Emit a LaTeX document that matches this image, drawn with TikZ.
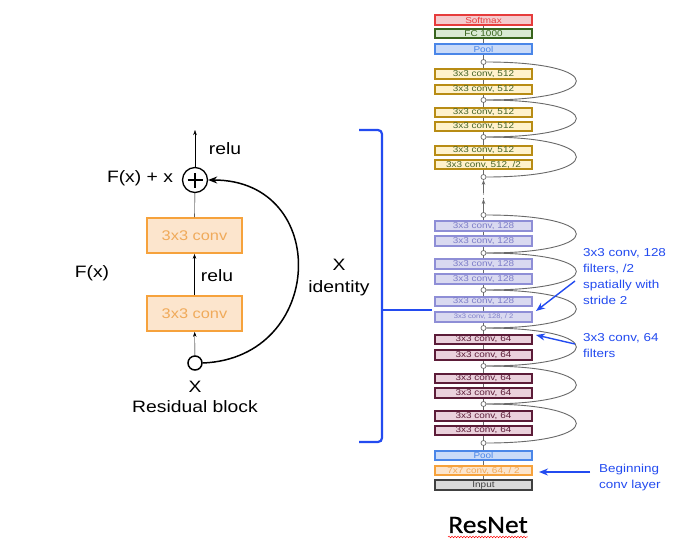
\documentclass[tikz,border=0pt]{standalone}
\usepackage{fontspec}
\setmainfont{Liberation Sans}
\newfontfamily\widesans[FakeStretch=1.17]{Liberation Sans}
\newfontfamily\calibri[FakeStretch=1.1,FakeBold=0.6]{Carlito}
\usetikzlibrary{arrows.meta,decorations.pathmorphing}

\definecolor{smline}{RGB}{230,60,60}
\definecolor{smfill}{RGB}{244,204,206}
\definecolor{fcline}{RGB}{56,100,29}
\definecolor{fcfill}{RGB}{217,234,211}
\definecolor{poline}{RGB}{74,134,232}
\definecolor{pofill}{RGB}{201,218,248}
\definecolor{goline}{RGB}{184,140,20}
\definecolor{gofill}{RGB}{255,242,204}
\definecolor{gotext}{RGB}{70,100,40}
\definecolor{laline}{RGB}{142,142,214}
\definecolor{lafill}{RGB}{217,217,240}
\definecolor{latext}{RGB}{125,125,200}
\definecolor{maline}{RGB}{92,28,56}
\definecolor{mafill}{RGB}{234,209,220}
\definecolor{orline}{RGB}{246,162,60}
\definecolor{orfill}{RGB}{252,229,205}
\definecolor{ortext}{RGB}{240,170,90}
\definecolor{inline}{RGB}{64,64,64}
\definecolor{infill}{RGB}{217,217,217}
\definecolor{skipgray}{RGB}{105,105,105}
\definecolor{noteblue}{RGB}{35,75,240}

\begin{document}
\begin{tikzpicture}[x=1pt, y=-1pt,
    layer/.style n args={3}{draw=#1, fill=#2, text=#3, line width=2.2pt,
        minimum width=96.5pt, minimum height=9.5pt, inner sep=0pt,
        font=\widesans\fontsize{8.5}{8.5}\selectfont},
    junc/.style={circle, draw=skipgray, fill=white, line width=0.7pt,
        minimum size=5pt, inner sep=0pt},
    skip/.style={draw=skipgray, line width=0.9pt},
    flow/.style={draw=skipgray, line width=0.8pt},
    convbox/.style={draw=orline, fill=orfill, text=ortext, line width=1.8pt,
        minimum width=95pt, minimum height=35pt,
        font=\widesans\fontsize{14}{14}\selectfont},
    lbl/.style={font=\widesans\fontsize{16.5}{18}\selectfont},
    note/.style={text=noteblue, align=left, anchor=north west, inner sep=0pt,
        font=\widesans\fontsize{11.5}{16}\selectfont},
    noteline/.style={draw=noteblue, line width=1.4pt, -{Stealth[length=9pt,width=7pt]}},
    small/.style={-{Stealth[length=5pt,width=3.5pt]}}
  ]
  \fill[white] (0,0) rectangle (700,555);
  \useasboundingbox (0,0) rectangle (700,555);

  % residual block
  \node[convbox] (upconv) at (194.5,235.5) {3x3 conv};
  \node[convbox] (lowconv) at (194.5,313.5) {3x3 conv};
  \node[circle, draw, line width=1.3pt, minimum size=25pt, inner sep=0pt,
        path picture={
          \draw[line width=2.6pt] ([xshift=-7.5pt]path picture bounding box.center)
            -- ([xshift=7.5pt]path picture bounding box.center);
          \draw[line width=2.6pt] ([yshift=-7.5pt]path picture bounding box.center)
            -- ([yshift=7.5pt]path picture bounding box.center);
        }] (plus) at (195,180) {};
  \node[circle, draw, line width=1.5pt, minimum size=14pt, inner sep=0pt] (xin) at (195,363) {};
  \coordinate (out) at (195,130);
  \draw[small] (xin) -- (lowconv);
  \draw[small] (lowconv) -- (upconv);
  \draw (upconv) -- (plus);
  \draw[small] (plus) -- (out);
  \draw[line width=1.5pt, -{Stealth[length=9pt,width=7pt]}]
    (xin.east) .. controls +(123,-5) and +(123,0) .. (plus.east);
  \node[lbl] (relutop) at (225,149) {relu};
  \node[lbl] (relumid) at (217,276) {relu};
  \node[lbl] (fxx) at (140,178) {F(x) + x};
  \node[lbl] (fx) at (92,273) {F(x)};
  \node[lbl] (xlbl) at (195,387) {X};
  \node[lbl] (rblock) at (195,407) {Residual block};
  \node[lbl] (xid) at (339,265) {X};
  \node[lbl] (ident) at (339,288) {identity};

  % bracket
  \coordinate (brk) at (382,310);
  \coordinate (brktip) at (432,310);
  \draw[noteblue, line width=2.2pt, rounded corners=4pt]
    (359,130) -| (brk) |- (359,442);
  \draw[noteblue, line width=2.2pt] (brk) -- (brktip);

  % junctions
  \node[junc] (s1) at (483.5,62) {};
  \node[junc] (s2) at (483.5,100) {};
  \node[junc] (s3) at (483.5,137) {};
  \node[junc] (s4) at (483.5,177) {};
  \coordinate (dots) at (483.5,196);
  \fill[skipgray] (483.5,194) circle (0.7) (483.5,198.5) circle (0.7);
  \node[junc] (s5) at (483.5,215) {};
  \node[junc] (s6) at (483.5,253) {};
  \node[junc] (s7) at (483.5,290) {};
  \node[junc] (s8) at (483.5,328) {};
  \node[junc] (s9) at (483.5,366) {};
  \node[junc] (s10) at (483.5,404) {};
  \node[junc] (s11) at (483.5,443) {};

  % shortcuts
  \foreach \a/\b in {s1/s2,s2/s3,s3/s4,s5/s6,s6/s7,s7/s8,s8/s9,s9/s10,s10/s11}
    \draw[skip] (\a.east) .. controls +(120,0) and +(120,0) .. (\b.east);

  % layers
  \node[layer={smline}{smfill}{smline}] (softmax) at (483.5,20) {Softmax};
  \node[layer={fcline}{fcfill}{fcline}] (fc) at (483.5,33.5) {FC 1000};
  \node[layer={poline}{pofill}{poline}] (pooltop) at (483.5,49) {Pool};
  \node[layer={goline}{gofill}{gotext}] (c512a) at (483.5,74) {3x3 conv, 512};
  \node[layer={goline}{gofill}{gotext}] (c512b) at (483.5,89.5) {3x3 conv, 512};
  \node[layer={goline}{gofill}{gotext}] (c512c) at (483.5,112.5) {3x3 conv, 512};
  \node[layer={goline}{gofill}{gotext}] (c512d) at (483.5,126.5) {3x3 conv, 512};
  \node[layer={goline}{gofill}{gotext}] (c512e) at (483.5,150.5) {3x3 conv, 512};
  \node[layer={goline}{gofill}{gotext}] (c512f) at (483.5,164.5) {3x3 conv, 512, /2};
  \node[layer={laline}{lafill}{latext}] (c128a) at (483.5,226) {3x3 conv, 128};
  \node[layer={laline}{lafill}{latext}] (c128b) at (483.5,241) {3x3 conv, 128};
  \node[layer={laline}{lafill}{latext}] (c128c) at (483.5,264) {3x3 conv, 128};
  \node[layer={laline}{lafill}{latext}] (c128d) at (483.5,279) {3x3 conv, 128};
  \node[layer={laline}{lafill}{latext}] (c128e) at (483.5,301.5) {3x3 conv, 128};
  \node[layer={laline}{lafill}{latext}, font=\widesans\fontsize{6.5}{6.5}\selectfont] (c128f) at (483.5,317) {3x3 conv, 128, / 2};
  \node[layer={maline}{mafill}{maline}] (c64a) at (483.5,339.5) {3x3 conv, 64};
  \node[layer={maline}{mafill}{maline}] (c64b) at (483.5,355) {3x3 conv, 64};
  \node[layer={maline}{mafill}{maline}] (c64c) at (483.5,378.5) {3x3 conv, 64};
  \node[layer={maline}{mafill}{maline}] (c64d) at (483.5,393) {3x3 conv, 64};
  \node[layer={maline}{mafill}{maline}] (c64e) at (483.5,416) {3x3 conv, 64};
  \node[layer={maline}{mafill}{maline}] (c64f) at (483.5,430.5) {3x3 conv, 64};
  \node[layer={poline}{pofill}{poline}] (poolbot) at (483.5,455.5) {Pool};
  \node[layer={orline}{orfill}{ortext}] (conv1) at (483.5,470.5) {7x7 conv, 64, / 2};
  \node[layer={inline}{infill}{inline}] (input) at (483.5,485) {Input};

  % main path
  \foreach \a/\b in {fc/softmax,pooltop/fc,s1/pooltop,c512a/s1,c512b/c512a,s2/c512b,
      c512c/s2,c512d/c512c,s3/c512d,c512e/s3,c512f/c512e,s4/c512f,
      c128a/s5,c128b/c128a,s6/c128b,c128c/s6,c128d/c128c,s7/c128d,c128e/s7,
      c128f/c128e,s8/c128f,c64a/s8,c64b/c64a,s9/c64b,c64c/s9,c64d/c64c,s10/c64d,
      c64e/s10,c64f/c64e,s11/c64f,poolbot/s11,conv1/poolbot,input/conv1}
    \draw[flow] (\a) -- (\b);
  \draw[flow, small] (s5) -- ([yshift=-3pt]dots);
  \draw[flow, small] ([yshift=3pt]dots) -- (s4);

  % notes
  \node[note] (note128) at (583,248) {3x3 conv, 128\\filters, /2\\spatially with\\stride 2};
  \node[note] (note64) at (583,333) {3x3 conv, 64\\filters};
  \node[note] (notefirst) at (599,464) {Beginning\\conv layer};
  \coordinate (t128) at (575,281);
  \coordinate (h128) at (536,311);
  \coordinate (t64) at (575,344);
  \coordinate (h64) at (536,335);
  \coordinate (tfirst) at (590,472);
  \coordinate (hfirst) at (539,472);
  \draw[noteline] (t128) -- (h128);
  \draw[noteline] (t64) -- (h64);
  \draw[noteline] (tfirst) -- (hfirst);

  % title
  \node[inner sep=0pt, font=\calibri\fontsize{25}{25}\selectfont] (resnet) at (488,525) {ResNet};
  \draw[red, line width=0.5pt, decorate, decoration={snake, amplitude=0.8pt, segment length=3pt}]
    ([yshift=-4pt]resnet.base west) -- ([yshift=-4pt]resnet.base east);
\end{tikzpicture}
\end{document}
